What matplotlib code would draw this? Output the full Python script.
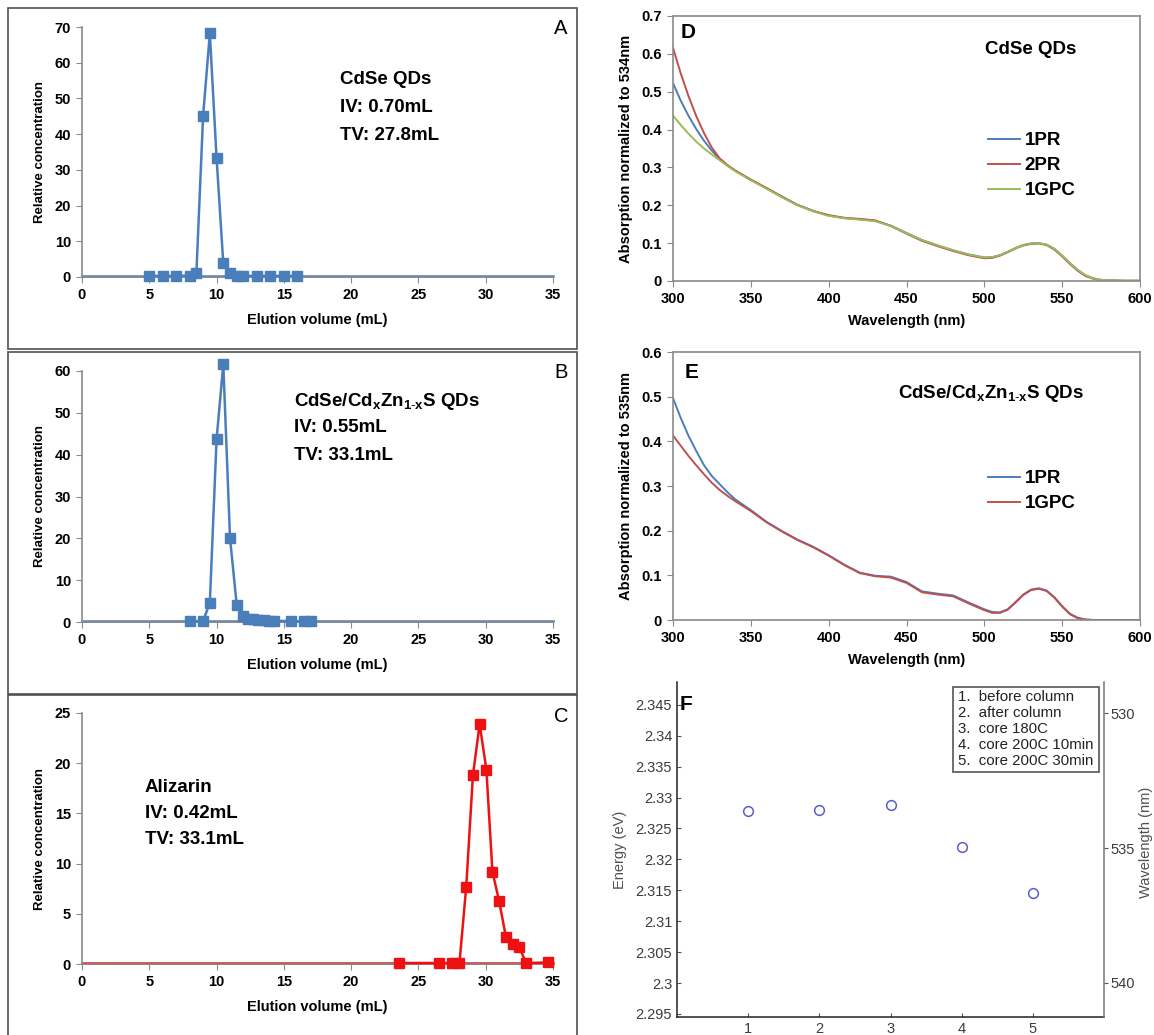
import matplotlib
matplotlib.use('Agg')
import matplotlib.pyplot as plt
from matplotlib.patches import Rectangle
from matplotlib.ticker import FuncFormatter

plt.rcParams['font.family'] = ['Liberation Sans', 'DejaVu Sans']
plt.rcParams['mathtext.fontset'] = 'custom'
plt.rcParams['mathtext.rm'] = 'Liberation Sans'
plt.rcParams['mathtext.bf'] = 'Liberation Sans:bold'
plt.rcParams['mathtext.it'] = 'Liberation Sans:italic'

W, H = 1154, 1035

# --- panel A, B, C: elution profiles ---
a_x = [5, 6, 7, 8, 8.5, 9, 9.5, 10, 10.5, 11, 11.5, 12, 13, 14, 15, 16]
a_y = [0.3, 0.3, 0.3, 0.4, 1.1, 45.2, 68.2, 33.3, 3.8, 1.0, 0.3, 0.3, 0.3, 0.3, 0.3, 0.3]

b_x = [8, 9, 9.5, 10, 10.5, 11, 11.5, 12, 12.3, 12.7, 13.1, 13.5, 13.9, 14.3, 15.5, 16.5, 17]
b_y = [0.2, 0.2, 4.6, 43.7, 61.6, 20.0, 4.0, 1.4, 0.8, 0.6, 0.5, 0.4, 0.3, 0.3, 0.2, 0.2, 0.2]

c_x = [23.55, 26.5, 27.5, 28.05, 28.55, 29.05, 29.55, 30.05, 30.5, 31.0, 31.5, 32.0, 32.5, 33.0, 34.65]
c_y = [0.1, 0.1, 0.1, 0.1, 7.65, 18.8, 23.9, 19.35, 9.2, 6.25, 2.7, 1.95, 1.65, 0.1, 0.15]

base_x = [0, 35]
base_ab = [0.3, 0.3]
base_c = [0.1, 0.1]

# --- panel D: CdSe QDs absorption ---
d_wl = [300, 305, 310, 315, 320, 325, 330, 335, 340, 350, 360, 370, 380, 390, 400,
        410, 420, 430, 440, 450, 460, 470, 480, 490, 500, 505, 510, 515, 520, 525,
        530, 535, 540, 545, 550, 555, 560, 565, 570, 575, 580, 590, 600]
d_1pr = [0.523, 0.476, 0.436, 0.401, 0.370, 0.344, 0.322, 0.305, 0.291, 0.267, 0.245,
         0.222, 0.201, 0.185, 0.173, 0.166, 0.163, 0.159, 0.146, 0.127, 0.108, 0.094,
         0.081, 0.070, 0.062, 0.063, 0.068, 0.077, 0.087, 0.095, 0.099, 0.100, 0.096,
         0.085, 0.067, 0.047, 0.029, 0.015, 0.007, 0.003, 0.002, 0.001, 0.001]
d_2pr = [0.616, 0.548, 0.488, 0.435, 0.390, 0.352, 0.324, 0.306, 0.292, 0.268, 0.246,
         0.223, 0.201, 0.185, 0.174, 0.167, 0.164, 0.160, 0.145, 0.125, 0.106, 0.092,
         0.079, 0.068, 0.060, 0.061, 0.067, 0.076, 0.086, 0.094, 0.098, 0.099, 0.095,
         0.083, 0.065, 0.045, 0.027, 0.013, 0.006, 0.002, 0.001, 0.000, 0.000]
d_1gpc = [0.437, 0.412, 0.389, 0.368, 0.350, 0.334, 0.319, 0.304, 0.290, 0.266, 0.244,
          0.221, 0.200, 0.184, 0.172, 0.166, 0.162, 0.158, 0.145, 0.126, 0.108, 0.094,
          0.081, 0.070, 0.062, 0.063, 0.068, 0.077, 0.087, 0.095, 0.099, 0.100, 0.096,
          0.085, 0.067, 0.047, 0.029, 0.015, 0.007, 0.003, 0.002, 0.001, 0.001]

# --- panel E: core/shell absorption ---
e_wl = [300, 305, 310, 315, 320, 325, 330, 335, 340, 350, 360, 370, 380, 390, 400,
        410, 420, 430, 440, 450, 460, 470, 480, 490, 500, 505, 510, 515, 520, 525,
        530, 535, 540, 545, 550, 555, 560, 565, 570, 580, 590, 600]
e_1pr = [0.497, 0.452, 0.412, 0.378, 0.346, 0.322, 0.304, 0.286, 0.270, 0.246, 0.220,
         0.199, 0.180, 0.164, 0.145, 0.124, 0.106, 0.099, 0.097, 0.085, 0.064, 0.059,
         0.055, 0.039, 0.024, 0.018, 0.017, 0.024, 0.040, 0.057, 0.068, 0.071, 0.066,
         0.051, 0.031, 0.014, 0.005, 0.001, 0.0, 0.0, 0.0, 0.0]
e_1gpc = [0.413, 0.390, 0.367, 0.346, 0.326, 0.307, 0.291, 0.278, 0.266, 0.244, 0.219,
          0.198, 0.179, 0.163, 0.144, 0.123, 0.105, 0.098, 0.095, 0.083, 0.062, 0.057,
          0.053, 0.037, 0.022, 0.016, 0.016, 0.023, 0.039, 0.056, 0.067, 0.070, 0.065,
          0.050, 0.030, 0.013, 0.004, 0.001, 0.0, 0.0, 0.0, 0.0]

# --- panel F: first exciton energy ---
f_x = [1, 2, 3, 4, 5]
f_energy = [2.3278, 2.3280, 2.3288, 2.3220, 2.3145]
f_legend = ['1.  before column', '2.  after column', '3.  core 180C',
            '4.  core 200C 10min', '5.  core 200C 30min']

BLUE = '#4a7ebb'
RED_C = '#ee1111'
RED = '#c0504d'
GREEN = '#9bbb59'
SPINE = '#8a8a8a'

fig = plt.figure(figsize=(W / 100, H / 100), dpi=100)


def add_ax(left, top, right, bottom):
    return fig.add_axes([left / W, 1 - bottom / H, (right - left) / W, (bottom - top) / H])


def ftext(x, y, s, **kw):
    fig.text(x / W, 1 - y / H, s, **kw)


# boxes around left panels
for top, bottom in [(8, 349), (352, 694), (695, 1040)]:
    fig.patches.append(Rectangle((8 / W, 1 - bottom / H), 569 / W, (bottom - top) / H,
                                 transform=fig.transFigure, fill=False,
                                 edgecolor='#505050', lw=1.2))


def elution(ax, xs, ys, base, color, ymax, ystep):
    ax.plot(base_x, base, color=color, lw=1.8, zorder=2, clip_on=False)
    ax.plot(xs, ys, color=color, lw=1.8, marker='s', ms=6.5, zorder=3, clip_on=False)
    ax.set_xlim(0, 35)
    ax.set_ylim(0, ymax)
    ax.set_xticks(range(0, 36, 5))
    ax.set_yticks(range(0, ymax + 1, ystep))
    for s in ['top', 'right']:
        ax.spines[s].set_visible(False)
    for s in ['left', 'bottom']:
        ax.spines[s].set_color(SPINE)
        ax.spines[s].set_linewidth(1.2)
    ax.tick_params(direction='out', length=4, color=SPINE, labelsize=10.5, pad=4)
    for lab in ax.get_xticklabels() + ax.get_yticklabels():
        lab.set_fontweight('bold')
    ax.set_xlabel('Elution volume (mL)', fontsize=10.5, fontweight='bold', labelpad=8)
    ax.set_ylabel('Relative concentration', fontsize=9.5, fontweight='bold', labelpad=6)


axA = add_ax(82, 27, 553, 277)
elution(axA, a_x, a_y, base_ab, BLUE, 70, 10)
axB = add_ax(82, 371, 553, 622)
elution(axB, b_x, b_y, base_ab, BLUE, 60, 10)
axC = add_ax(82, 713, 553, 964)
elution(axC, c_x, c_y, base_c, RED_C, 25, 5)

big = dict(fontsize=13.5, fontweight='bold', va='center', ha='left')
ftext(340, 80, 'CdSe QDs', **big)
ftext(340, 108, 'IV: 0.70mL', **big)
ftext(340, 135, 'TV: 27.8mL', **big)
ftext(294, 401, r'CdSe/Cd$_\mathbf{x}$Zn$_\mathbf{1\text{-}x}$S QDs', **big)
ftext(294, 428, 'IV: 0.55mL', **big)
ftext(294, 455, 'TV: 33.1mL', **big)
ftext(145, 787, 'Alizarin', **big)
ftext(145, 814, 'IV: 0.42mL', **big)
ftext(145, 840, 'TV: 33.1mL', **big)
for lab, y in [('A', 28), ('B', 373), ('C', 717)]:
    ftext(561, y, lab, fontsize=14.5, ha='center', va='center')


def spectrum(ax, ylab, ymax):
    ax.set_xlim(300, 600)
    ax.set_ylim(0, ymax)
    ax.set_xticks(range(300, 601, 50))
    ax.set_yticks([round(0.1 * i, 1) for i in range(int(round(ymax * 10)) + 1)])
    ax.yaxis.set_major_formatter(FuncFormatter(lambda v, p: '0' if v == 0 else f'{v:.1f}'))
    for s in ax.spines.values():
        s.set_color(SPINE)
        s.set_linewidth(1.2)
    ax.tick_params(direction='out', length=4, color=SPINE, labelsize=10.5, pad=4)
    for lab in ax.get_xticklabels() + ax.get_yticklabels():
        lab.set_fontweight('bold')
    ax.set_xlabel('Wavelength (nm)', fontsize=10.5, fontweight='bold', labelpad=6)
    ax.set_ylabel(ylab, fontsize=10.5, fontweight='bold', labelpad=6)


axD = add_ax(673, 16, 1140, 281)
axD.plot(d_wl, d_1pr, color=BLUE, lw=1.4, label='1PR')
axD.plot(d_wl, d_2pr, color=RED, lw=1.4, label='2PR')
axD.plot(d_wl, d_1gpc, color=GREEN, lw=1.4, label='1GPC')
spectrum(axD, 'Absorption normalized to 534nm', 0.7)
axD.legend(loc='upper left', bbox_to_anchor=((988 - 673) / 467, (281 - 132) / 265),
           frameon=False, borderpad=0, borderaxespad=0, handlelength=1.7,
           handletextpad=0.25, labelspacing=0.42, prop=dict(size=13.5, weight='bold'))
ftext(688, 33, 'D', fontsize=15, fontweight='bold', ha='center', va='center')
ftext(985, 50, 'CdSe QDs', **big)

axE = add_ax(673, 352, 1140, 620)
axE.plot(e_wl, e_1pr, color=BLUE, lw=1.4, label='1PR')
axE.plot(e_wl, e_1gpc, color=RED, lw=1.4, label='1GPC')
spectrum(axE, 'Absorption normalized to 535nm', 0.6)
axE.legend(loc='upper left', bbox_to_anchor=((988 - 673) / 467, (620 - 470) / 268),
           frameon=False, borderpad=0, borderaxespad=0, handlelength=1.7,
           handletextpad=0.25, labelspacing=0.42, prop=dict(size=13.5, weight='bold'))
ftext(692, 372, 'E', fontsize=15, fontweight='bold', ha='center', va='center')
ftext(898, 393, r'CdSe/Cd$_\mathbf{x}$Zn$_\mathbf{1\text{-}x}$S QDs', **big)

# panel F
GREY_T = '#3c3c3c'
axF = add_ax(677, 682, 1104, 1017)
axF.plot(f_x, f_energy, linestyle='none', marker='o', ms=7, mfc='none',
         mec='#5b5fc7', mew=1.1)
axF.set_xlim(0, 6)
axF.set_ylim(2.2945, 2.3487)
axF.set_xticks(f_x)
axF.set_yticks([2.295 + 0.005 * i for i in range(11)])
axF.yaxis.set_major_formatter(FuncFormatter(lambda v, p: f'{v:.3f}'.rstrip('0').rstrip('.')))
axF.spines['top'].set_visible(False)
axF.spines['right'].set_visible(False)
for s in ['left', 'bottom']:
    axF.spines[s].set_color('#222222')
    axF.spines[s].set_linewidth(1.1)
axF.tick_params(direction='in', length=3, labelsize=10.5, labelcolor=GREY_T, color='#555555')
axF.set_ylabel('Energy (eV)', fontsize=10.5, color='#505050', labelpad=6)

axF2 = axF.twinx()
axF2.set_ylim(541.27, 528.84)
axF2.set_yticks([530, 535, 540])
for s in ['top', 'left', 'bottom']:
    axF2.spines[s].set_visible(False)
axF2.spines['right'].set_color('#777777')
axF2.spines['right'].set_linewidth(1.1)
axF2.tick_params(direction='out', length=3, labelsize=10.5, labelcolor=GREY_T, color='#555555',
                 pad=2)
ftext(1146, 842, 'Wavelength (nm)', fontsize=10.5, color='#505050', rotation=90,
      ha='center', va='center')

leg_box = Rectangle((953 / W, 1 - 772 / H), 146 / W, 85 / H, transform=fig.transFigure,
                    facecolor='white', edgecolor='#555555', lw=1.2, zorder=5)
fig.patches.append(leg_box)
for i, t in enumerate(f_legend):
    ftext(958, 697 + 16 * i, t, fontsize=10.8, color='#222222', va='center', zorder=6)
ftext(686, 705, 'F', fontsize=15, fontweight='bold', ha='center', va='center')

fig.savefig('out.png', dpi=100, facecolor='white')
